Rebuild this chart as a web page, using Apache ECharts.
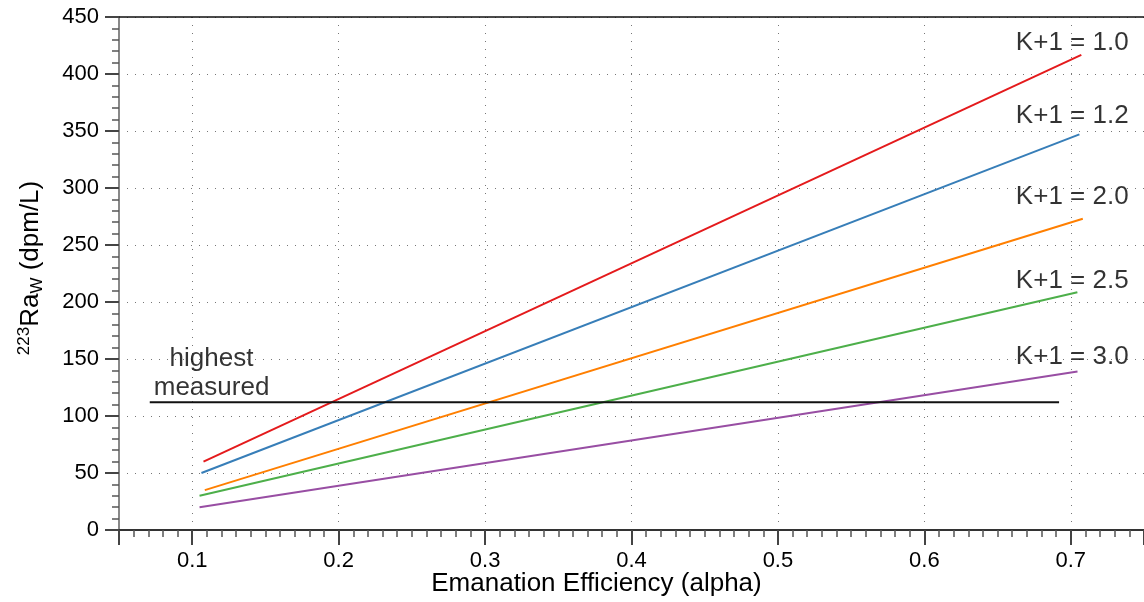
<!DOCTYPE html>
<html>
<head>
<meta charset="utf-8">
<title>223Ra vs emanation efficiency</title>
<script src="https://cdn.jsdelivr.net/npm/echarts@6/dist/echarts.min.js"></script>
<style>
  html, body { margin: 0; padding: 0; background: #fff; }
  #main { width: 1144px; height: 602px; }
</style>
</head>
<body>
<div id="main"></div>
<script>
// values
var curveNames = ['K+1 = 1.0', 'K+1 = 1.2', 'K+1 = 2.0', 'K+1 = 2.5', 'K+1 = 3.0'];
var alphaStart = [0.1077, 0.1063, 0.1086, 0.105, 0.105];
var alphaEnd = [0.7072, 0.7059, 0.7082, 0.7045, 0.7046];
var raStart = [60, 50, 35, 30, 20];
var raEnd = [416.7, 347, 273, 208.5, 139];
var curveColors = ['#e41a1c', '#377eb8', '#ff7f00', '#4daf4a', '#984ea3'];

// "highest measured" horizontal line
var measuredAlpha = [0.071, 0.692];
var measuredRa = 112;

// where the text annotations sit, in data units
var labelAlpha = [0.7395, 0.7395, 0.7395, 0.7395, 0.7395];
var labelRa = [427.4, 363.4, 292.4, 218.3, 152.1];
var measuredLabel = 'highest\nmeasured';
var measuredLabelPos = [0.1132, 137.6];

var FONT = '"Liberation Sans", Arial, Helvetica, sans-serif';

var chart = echarts.init(document.getElementById('main'));

var series = [];
for (var i = 0; i < curveNames.length; i++) {
  series.push({
    name: curveNames[i],
    type: 'line',
    showSymbol: false,
    silent: true,
    lineStyle: { color: curveColors[i], width: 2 },
    data: [[alphaStart[i], raStart[i]], [alphaEnd[i], raEnd[i]]]
  });
}
series.push({
  name: 'highest measured',
  type: 'line',
  showSymbol: false,
  silent: true,
  lineStyle: { color: '#111', width: 2 },
  data: [[measuredAlpha[0], measuredRa], [measuredAlpha[1], measuredRa]]
});

// text annotations
var labelData = curveNames.map(function (n, i) {
  return { name: n, value: [labelAlpha[i], labelRa[i]] };
});
series.push({
  type: 'scatter',
  symbolSize: 0,
  silent: true,
  data: labelData,
  label: {
    show: true,
    position: 'left',
    distance: 0,
    formatter: '{b}',
    color: '#000',
    fontSize: 26,
    fontFamily: FONT
  }
});
series.push({
  type: 'scatter',
  symbolSize: 0,
  silent: true,
  data: [{ name: measuredLabel, value: measuredLabelPos }],
  label: {
    show: true,
    position: 'inside',
    formatter: '{b}',
    align: 'center',
    verticalAlign: 'middle',
    color: '#000',
    fontSize: 26,
    lineHeight: 29,
    fontFamily: FONT
  }
});

var option = {
  animation: false,
  backgroundColor: '#fff',
  grid: { left: 119, top: 17, width: 1027, height: 513 },
  xAxis: [{
    type: 'value',
    min: 0.05,
    max: 0.75,
    splitNumber: 7,
    name: 'Emanation Efficiency (alpha)',
    nameLocation: 'middle',
    nameGap: 41,
    nameMoveOverlap: false,
    nameTextStyle: { color: '#000', fontSize: 26, fontFamily: FONT, padding: [0, 70, 0, 0] },
    axisLine: { show: true, lineStyle: { color: '#333', width: 2 } },
    axisTick: { show: true, inside: false, length: 15, lineStyle: { color: '#444', width: 2 } },
    minorTick: { show: true, splitNumber: 10, length: 7, lineStyle: { color: '#555', width: 1.5 } },
    axisLabel: {
      margin: 20, color: '#000', fontSize: 22, fontFamily: FONT,
      showMinLabel: false, showMaxLabel: false
    },
    splitLine: { show: true, lineStyle: { color: '#777', width: 1, type: [1, 7] } }
  }, {
    type: 'value',
    position: 'top',
    min: 0.05,
    max: 0.75,
    axisLine: { show: true, onZero: false, lineStyle: { color: '#111', width: 1.5 } },
    axisTick: { show: false },
    axisLabel: { show: false },
    splitLine: { show: false }
  }],
  yAxis: {
    type: 'value',
    min: 0,
    max: 450,
    interval: 50,
    name: '{sup|223}{main|Ra}{sub|W}{main| (dpm/L)}',
    nameLocation: 'middle',
    nameRotate: 90,
    nameGap: 73,
    nameMoveOverlap: false,
    nameTextStyle: {
      color: '#000',
      fontFamily: FONT,
      padding: [0, 0, 0, 11],
      rich: {
        main: { fontSize: 26, fontFamily: FONT, color: '#000', lineHeight: 30 },
        sup: { fontSize: 17, fontFamily: FONT, color: '#000', verticalAlign: 'top', lineHeight: 17 },
        sub: { fontSize: 17, fontFamily: FONT, color: '#000', verticalAlign: 'bottom', lineHeight: 17 }
      }
    },
    axisLine: { show: true, lineStyle: { color: '#888', width: 2 } },
    axisTick: { show: true, inside: false, length: 14, lineStyle: { color: '#444', width: 2 } },
    minorTick: { show: true, splitNumber: 5, length: 7, lineStyle: { color: '#555', width: 1.5 } },
    axisLabel: { margin: 20, color: '#000', fontSize: 22, fontFamily: FONT },
    splitLine: { show: true, lineStyle: { color: '#777', width: 1, type: [1, 7] } }
  },
  series: series
};

chart.setOption(option);
</script>
</body>
</html>
